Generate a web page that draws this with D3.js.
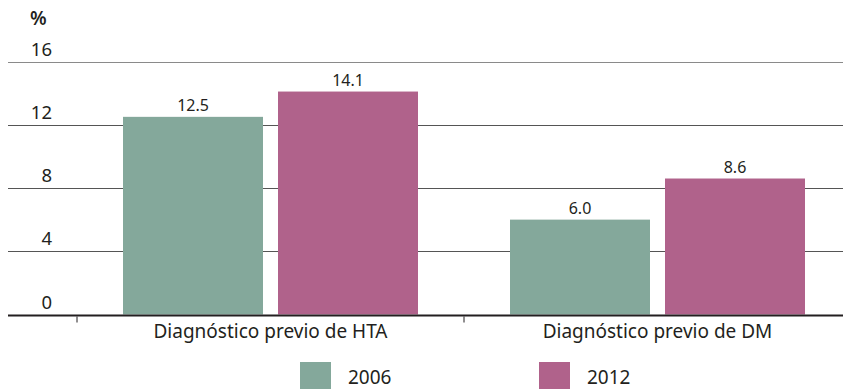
<!DOCTYPE html>
<html>
<head>
<meta charset="utf-8">
<script src="https://cdn.jsdelivr.net/npm/d3@7"></script>
<style>
  html, body { margin: 0; padding: 0; background: #fff; }
  svg { display: block; font-family: "Noto Sans", "Open Sans", sans-serif; }
</style>
</head>
<body>
<svg id="chart" width="843" height="389"></svg>
<script>
// Prevalence of previous diagnosis (%), by survey year
const categories = ["Diagnóstico previo de HTA", "Diagnóstico previo de DM"];
const years = ["2006", "2012"];
const values2006 = [12.5, 6.0];
const values2012 = [14.1, 8.6];
const yTicks = [0, 4, 8, 12, 16];
const colors = ["#84a89b", "#b0628b"];

const svg = d3.select("#chart");
const W = 843;

const y = d3.scaleLinear().domain([0, 16]).range([314.5, 61.5]);
const x0 = d3.scaleBand().domain(categories).range([77, 851]).paddingInner(0).paddingOuter(0);
const x1 = d3.scaleBand().domain(years).range([0, 295]).paddingInner(15 / 155).paddingOuter(0);

// horizontal gridlines with labels sitting above them
const grid = svg.append("g");
yTicks.filter(d => d > 0).forEach(t => {
  grid.append("line")
    .attr("x1", 8).attr("x2", W)
    .attr("y1", Math.round(y(t)) + 0.5).attr("y2", Math.round(y(t)) + 0.5)
    .attr("stroke", t === 16 ? "#8a8a8a" : "#555")
    .attr("stroke-width", 1.2);
});
yTicks.forEach(t => {
  grid.append("text")
    .attr("x", 52).attr("y", y(t) - 6)
    .attr("text-anchor", "end")
    .attr("font-size", 18.5)
    .attr("fill", "#231f20")
    .text(t);
});
svg.append("text")
  .attr("x", 30).attr("y", 25)
  .attr("font-size", 19)
  .attr("font-weight", 600)
  .attr("fill", "#231f20")
  .text("%");

// bars
const series = years.map((yr, i) => ({ year: yr, values: i === 0 ? values2006 : values2012, color: colors[i] }));
const groups = svg.append("g").selectAll("g")
  .data(categories)
  .join("g")
  .attr("transform", d => `translate(${x0(d) + (x0.bandwidth() - 295) / 2},0)`);

groups.each(function (cat, ci) {
  const g = d3.select(this);
  series.forEach(s => {
    const v = s.values[ci];
    g.append("rect")
      .attr("x", x1(s.year))
      .attr("width", x1.bandwidth())
      .attr("y", y(v))
      .attr("height", y(0) - y(v))
      .attr("fill", s.color);
    g.append("text")
      .attr("x", x1(s.year) + x1.bandwidth() / 2)
      .attr("y", y(v) - 6)
      .attr("text-anchor", "middle")
      .attr("font-size", 16)
      .attr("fill", "#231f20")
      .text(v.toFixed(1));
  });
});

// baseline axis with category ticks
svg.append("line")
  .attr("x1", 8).attr("x2", W)
  .attr("y1", y(0) + 1).attr("y2", y(0) + 1)
  .attr("stroke", "#231f20").attr("stroke-width", 2.2);
x0.domain().concat([null]).forEach(c => {
  const xp = c === null ? x0.range()[1] : x0(c);
  svg.append("line")
    .attr("x1", xp).attr("x2", xp)
    .attr("y1", y(0) + 2).attr("y2", y(0) + 8)
    .attr("stroke", "#231f20").attr("stroke-width", 1);
});
categories.forEach(c => {
  svg.append("text")
    .attr("x", x0(c) + x0.bandwidth() / 2)
    .attr("y", 338)
    .attr("text-anchor", "middle")
    .attr("font-size", 19)
    .attr("fill", "#231f20")
    .text(c);
});

// legend
const legendX = [300, 539];
series.forEach((s, i) => {
  svg.append("rect")
    .attr("x", legendX[i]).attr("y", 362)
    .attr("width", 31).attr("height", 31)
    .attr("fill", s.color);
  svg.append("text")
    .attr("x", legendX[i] + 48).attr("y", 384)
    .attr("font-size", 19)
    .attr("fill", "#231f20")
    .text(s.year);
});
</script>
</body>
</html>
